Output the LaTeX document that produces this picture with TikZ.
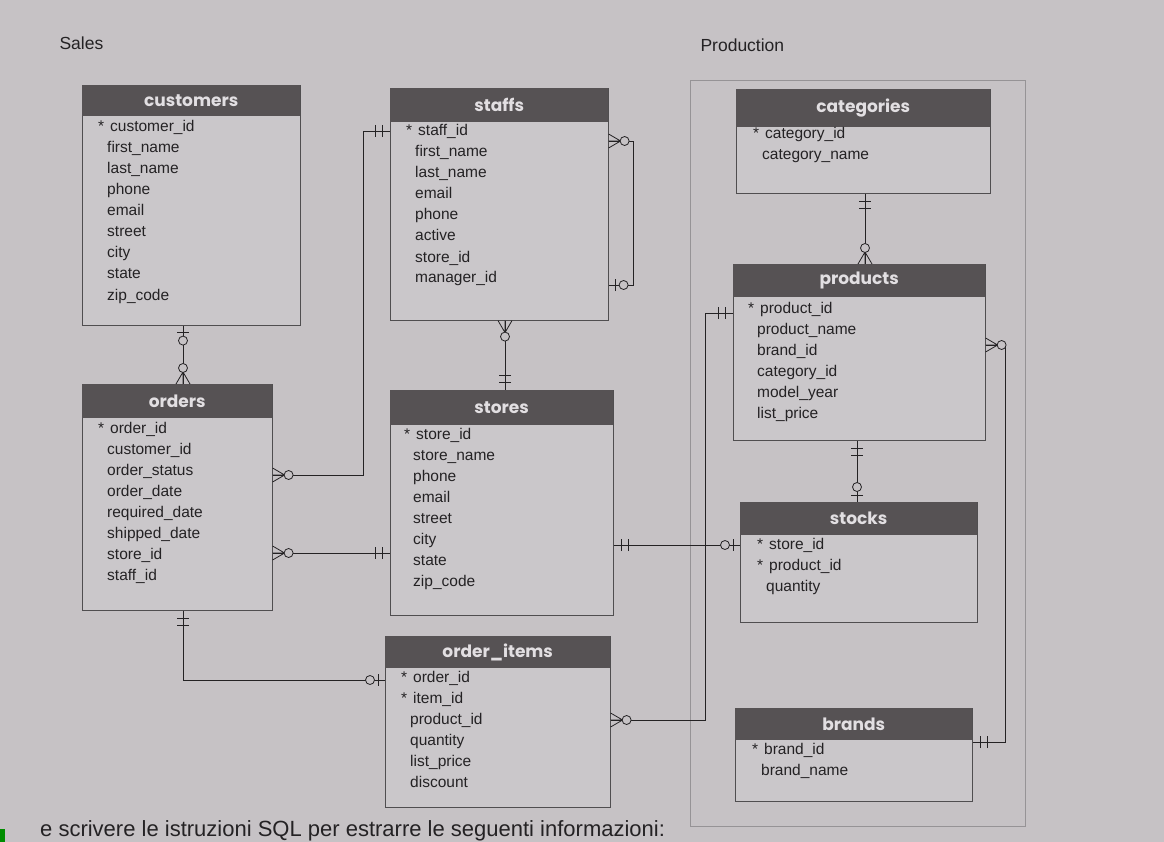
\documentclass[tikz,border=0pt]{standalone}
\usepackage{fontspec}
\setmainfont{Liberation Sans}
\newfontfamily\hdrfont{Poppins}
\usetikzlibrary{calc}
\definecolor{paper}{RGB}{198,194,197}
\definecolor{boxfill}{RGB}{202,199,202}
\definecolor{hdrcol}{RGB}{86,82,84}
\definecolor{hdrtxt}{RGB}{226,223,226}
\definecolor{ink}{RGB}{36,34,36}
\definecolor{frame}{RGB}{150,147,150}
\newcommand\pk{\llap{*\hspace{3pt}}\hspace{3pt}}
\newcommand\ertable[7]{%
  \node[tbody, minimum width=#4, minimum height=#6-#3] (#1) at (#2,#3) {};
  \node[thead, minimum width=#4, minimum height=#5] (#1-h) at (#2,#3) {#7};}
\newcommand\erfields[4]{%
  \foreach \t [count=\i] in {#4} \node[field] (#1-f\i) at (#2,#3+21*\i-21) {\t};}
\tikzset{
  tbody/.style={draw=ink!80, line width=0.6pt, fill=boxfill, anchor=north west, inner sep=0},
  thead/.style={fill=hdrcol, anchor=north west, inner sep=0, text=hdrtxt,
    font=\hdrfont\bfseries\fontsize{17}{17}\selectfont},
  field/.style={anchor=base west, inner sep=0, text=ink, font=\fontsize{15.5}{15.5}\selectfont},
  conn/.style={draw=ink, line width=0.8pt},
  ermark/.style={draw=ink, line width=0.8pt},
  onlyone/.pic={\draw[ermark] (-8,-6) -- (-8,6) (-15,-6) -- (-15,6);},
  zeroone/.pic={\draw[ermark] (-7,-6) -- (-7,6); \draw[ermark, fill=paper] (-15,0) circle[radius=4.5pt];},
  zeromany/.pic={\draw[ermark] (0,-7) -- (-12,0) -- (0,7) (0,0) -- (-12,0); \draw[ermark, fill=paper] (-16,0) circle[radius=4.5pt];}
}
\begin{document}
\begin{tikzpicture}[x=1pt,y=-1pt]
\useasboundingbox (0,0) rectangle (1164,842);
\clip (0,0) rectangle (1164,842);
\fill[paper] (0,0) rectangle (1164,842);
\fill[green!55!black] (0,829) rectangle (5,842);
% production frame
\draw[frame, line width=0.6pt] (690,80) rectangle (1025,826);
\node[anchor=west, text=ink, font=\fontsize{17.5}{17.5}\selectfont] (lsales) at (56,43) {Sales};
\node[anchor=west, text=ink, font=\fontsize{17.5}{17.5}\selectfont] (lprod) at (697,45) {Production};
% tables
\ertable{customers}{82}{85}{218}{31}{325}{customers}
\erfields{customers}{107}{132}{{\pk customer\_id},first\_name,last\_name,phone,email,street,city,state,zip\_code}
\ertable{staffs}{390}{88}{218}{34}{320}{staffs}
\erfields{staffs}{415}{136}{{\pk staff\_id},first\_name,last\_name,email,phone,active,store\_id,manager\_id}
\ertable{orders}{82}{384}{190}{34}{610}{orders}
\erfields{orders}{107}{433}{{\pk order\_id},customer\_id,order\_status,order\_date,required\_date,shipped\_date,store\_id,staff\_id}
\ertable{stores}{390}{390}{223}{35}{615}{stores}
\erfields{stores}{413}{439}{{\pk store\_id},store\_name,phone,email,street,city,state,zip\_code}
\ertable{orderitems}{385}{636}{225}{32}{807}{order\_items}
\erfields{orderitems}{410}{682}{{\pk order\_id},{\pk item\_id},product\_id,quantity,list\_price,discount}
\ertable{categories}{736}{89}{254}{38}{193}{categories}
\erfields{categories}{762}{139}{{\pk category\_id},category\_name}
\ertable{products}{733}{264}{252}{33}{440}{products}
\erfields{products}{757}{313}{{\pk product\_id},product\_name,brand\_id,category\_id,model\_year,list\_price}
\ertable{stocks}{740}{502}{237}{33}{622}{stocks}
\erfields{stocks}{766}{549}{{\pk store\_id},{\pk product\_id},quantity}
\ertable{brands}{735}{708}{237}{32}{801}{brands}
\erfields{brands}{761}{754}{{\pk brand\_id},brand\_name}
% connector end points
\coordinate (c1a) at ($(customers.south west)+(101,0)$);
\coordinate (c1b) at ($(orders.north west)+(101,0)$);
\coordinate (c2a) at ($(staffs.north west)+(0,43)$);
\coordinate (c2b) at ($(orders.north east)+(0,91)$);
\coordinate (c3a) at ($(staffs.north east)+(0,53)$);
\coordinate (c3b) at ($(staffs.north east)+(0,197)$);
\coordinate (c4a) at ($(staffs.south west)+(115,0)$);
\coordinate (c4b) at ($(stores.north west)+(115,0)$);
\coordinate (c5a) at ($(orders.north east)+(0,169)$);
\coordinate (c5b) at ($(stores.north west)+(0,163)$);
\coordinate (c6a) at ($(orders.south west)+(101,0)$);
\coordinate (c6b) at ($(orderitems.north west)+(0,44)$);
\coordinate (c7a) at ($(stores.north east)+(0,155)$);
\coordinate (c7b) at ($(stocks.north west)+(0,43)$);
\coordinate (c8a) at ($(products.north west)+(0,49)$);
\coordinate (c8b) at ($(orderitems.north east)+(0,84)$);
\coordinate (c9a) at ($(categories.south west)+(129,0)$);
\coordinate (c9b) at ($(products.north west)+(132,0)$);
\coordinate (c10a) at ($(products.south west)+(124,0)$);
\coordinate (c10b) at ($(stocks.north west)+(117,0)$);
\coordinate (c11a) at ($(products.north east)+(0,81)$);
\coordinate (c11b) at ($(brands.north east)+(0,34)$);
% connectors
\draw[conn] (c1a) -- (c1b);
\draw[conn] (c2a) -- ++(-27,0) |- (c2b);
\draw[conn] (c3a) -- ++(25,0) |- (c3b);
\draw[conn] (c4a) -- (c4b);
\draw[conn] (c5a) -- (c5b);
\draw[conn] (c6a) |- (c6b);
\draw[conn] (c7a) -- (c7b);
\draw[conn] (c8a) -- ++(-28,0) |- (c8b);
\draw[conn] (c9a) -- (c9b);
\draw[conn] (c10a) -- (c10b);
\draw[conn] (c11a) -- ++(20,0) |- (c11b);
% end marks
\pic[rotate=90] at (c1a) {zeroone};
\pic[rotate=-90] at (c1b) {zeromany};
\pic at (c2a) {onlyone};
\pic[rotate=180] at (c2b) {zeromany};
\pic[rotate=180] at (c3a) {zeromany};
\pic[rotate=180] at (c3b) {zeroone};
\pic[rotate=90] at (c4a) {zeromany};
\pic[rotate=-90] at (c4b) {onlyone};
\pic[rotate=180] at (c5a) {zeromany};
\pic at (c5b) {onlyone};
\pic[rotate=90] at (c6a) {onlyone};
\pic at (c6b) {zeroone};
\pic[rotate=180] at (c7a) {onlyone};
\pic at (c7b) {zeroone};
\pic at (c8a) {onlyone};
\pic[rotate=180] at (c8b) {zeromany};
\pic[rotate=90] at (c9a) {onlyone};
\pic[rotate=-90] at (c9b) {zeromany};
\pic[rotate=90] at (c10a) {onlyone};
\pic[rotate=-90] at (c10b) {zeroone};
\pic[rotate=180] at (c11a) {zeromany};
\pic[rotate=180] at (c11b) {onlyone};
% bottom text
\node[anchor=base west, inner sep=0, text=ink, font=\fontsize{22}{22}\selectfont] (bottomtext) at (40,836.5) {e scrivere le istruzioni SQL per estrarre le seguenti informazioni:};
\end{tikzpicture}
\end{document}
